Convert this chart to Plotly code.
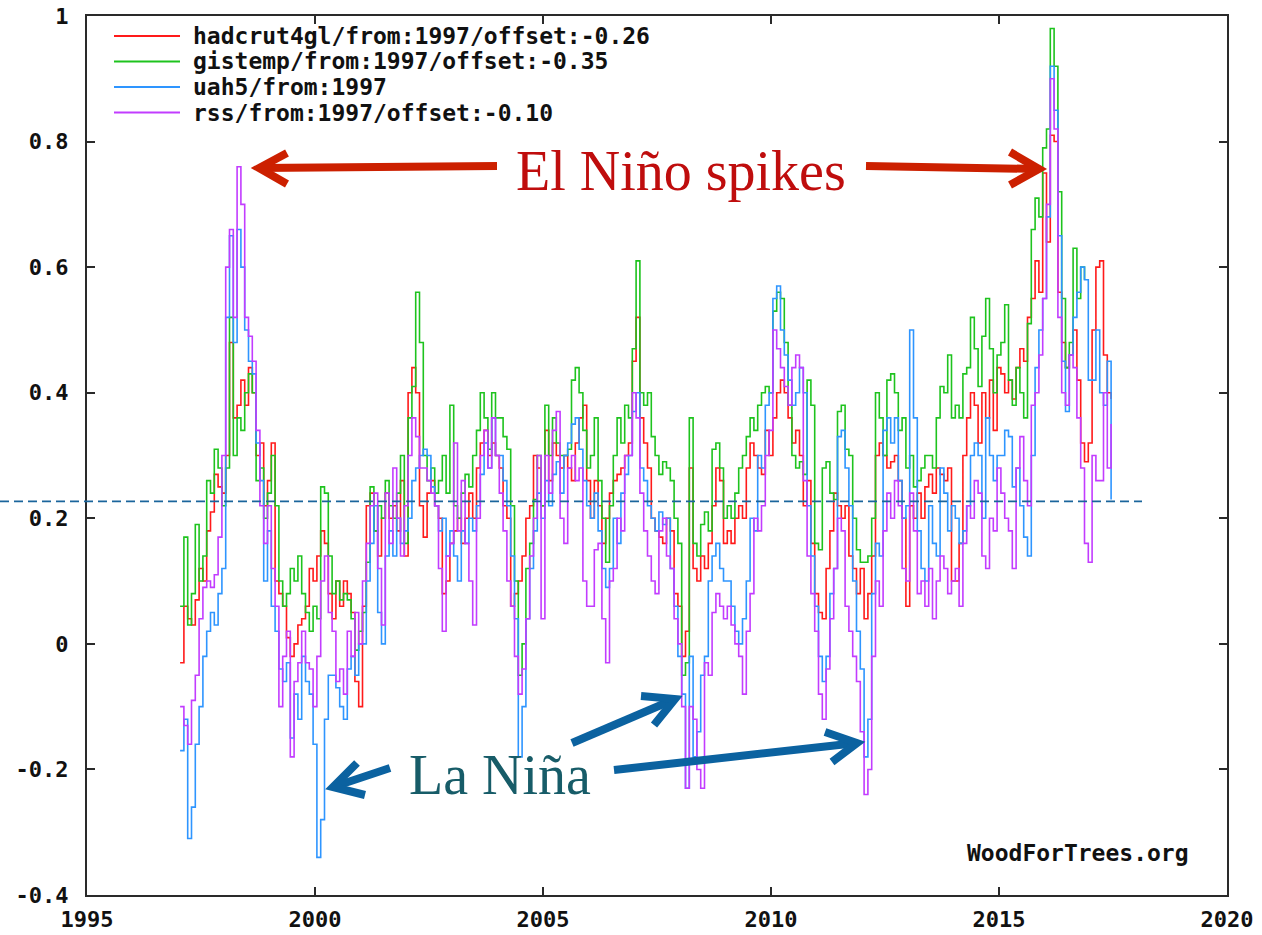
import plotly.graph_objects as go

# ---------------- data (monthly anomalies, from Jan 1997) ----------------
START_YEAR = 1997

hadcrut4gl = [
    -0.03, 0.06, 0.04, 0.03, 0.07, 0.12, 0.10, 0.18, 0.21, 0.27, 0.25, 0.24,   # 1997
    0.30, 0.48, 0.36, 0.38, 0.42, 0.38, 0.44, 0.40, 0.30, 0.32, 0.22, 0.26,    # 1998
    0.32, 0.10, 0.08, 0.06, 0.01, -0.02, 0.00, 0.03, 0.04, 0.06, 0.12, 0.10,   # 1999
    0.14, 0.18, 0.16, 0.08, 0.04, 0.10, 0.06, 0.10, 0.08, 0.05, -0.06, -0.10,  # 2000
    0.06, 0.22, 0.24, 0.18, 0.14, 0.20, 0.24, 0.20, 0.22, 0.18, 0.26, 0.14,    # 2001
    0.40, 0.44, 0.40, 0.22, 0.17, 0.24, 0.26, 0.22, 0.20, 0.08, 0.10, 0.16,    # 2002
    0.18, 0.20, 0.16, 0.20, 0.24, 0.20, 0.28, 0.32, 0.34, 0.30, 0.32, 0.30,    # 2003
    0.28, 0.22, 0.20, 0.06, 0.08, 0.10, 0.14, 0.20, 0.22, 0.30, 0.28, 0.22,    # 2004
    0.34, 0.26, 0.32, 0.30, 0.28, 0.30, 0.28, 0.26, 0.32, 0.36, 0.38, 0.26,    # 2005
    0.20, 0.26, 0.22, 0.16, 0.20, 0.24, 0.26, 0.27, 0.28, 0.30, 0.32, 0.45,    # 2006
    0.52, 0.36, 0.32, 0.28, 0.20, 0.18, 0.17, 0.16, 0.20, 0.18, 0.08, 0.06,    # 2007
    -0.02, 0.02, 0.28, 0.12, 0.10, 0.14, 0.12, 0.16, 0.22, 0.28, 0.26, 0.16,   # 2008
    0.18, 0.16, 0.20, 0.22, 0.20, 0.28, 0.32, 0.30, 0.28, 0.27, 0.34, 0.30,    # 2009
    0.36, 0.40, 0.42, 0.40, 0.36, 0.32, 0.34, 0.30, 0.22, 0.26, 0.16, 0.08,    # 2010
    0.05, 0.04, 0.12, 0.18, 0.24, 0.22, 0.20, 0.22, 0.14, 0.12, 0.08, 0.12,    # 2011
    0.04, 0.08, 0.14, 0.30, 0.32, 0.30, 0.28, 0.29, 0.30, 0.26, 0.20, 0.06,    # 2012
    0.22, 0.20, 0.24, 0.20, 0.25, 0.27, 0.24, 0.28, 0.27, 0.26, 0.28, 0.10,    # 2013
    0.10, 0.16, 0.30, 0.36, 0.40, 0.38, 0.32, 0.40, 0.36, 0.42, 0.34, 0.44,    # 2014
    0.43, 0.40, 0.42, 0.39, 0.44, 0.47, 0.45, 0.52, 0.55, 0.61, 0.56, 0.75,    # 2015
    0.64, 0.81, 0.80, 0.56, 0.48, 0.44, 0.46, 0.50, 0.42, 0.32, 0.29, 0.32,    # 2016
    0.50, 0.60, 0.61, 0.46, 0.40, 0.39,                                        # 2017
]

gistemp = [
    0.06, 0.17, 0.03, 0.08, 0.19, 0.10, 0.14, 0.26, 0.24, 0.31, 0.28, 0.22,    # 1997
    0.28, 0.52, 0.30, 0.36, 0.34, 0.40, 0.43, 0.40, 0.26, 0.28, 0.20, 0.24,    # 1998
    0.30, 0.22, 0.10, 0.06, 0.08, 0.12, 0.10, 0.14, 0.08, 0.05, 0.02, 0.06,    # 1999
    0.04, 0.25, 0.24, 0.14, 0.08, 0.10, 0.07, 0.08, 0.07, 0.04, -0.01, 0.02,   # 2000
    0.05, 0.13, 0.25, 0.18, 0.22, 0.20, 0.26, 0.22, 0.20, 0.24, 0.30, 0.16,    # 2001
    0.36, 0.41, 0.56, 0.48, 0.30, 0.26, 0.28, 0.24, 0.26, 0.30, 0.24, 0.38,    # 2002
    0.22, 0.20, 0.24, 0.27, 0.25, 0.30, 0.34, 0.40, 0.36, 0.31, 0.40, 0.36,    # 2003
    0.36, 0.33, 0.31, 0.22, 0.10, -0.05, 0.00, 0.12, 0.16, 0.23, 0.30, 0.22,   # 2004
    0.38, 0.30, 0.36, 0.32, 0.30, 0.30, 0.31, 0.42, 0.44, 0.40, 0.34, 0.28,    # 2005
    0.30, 0.36, 0.26, 0.20, 0.13, 0.22, 0.30, 0.36, 0.32, 0.38, 0.36, 0.47,    # 2006
    0.61, 0.40, 0.38, 0.40, 0.33, 0.30, 0.27, 0.29, 0.28, 0.26, 0.20, 0.16,    # 2007
    -0.05, -0.03, 0.36, 0.16, 0.14, 0.19, 0.21, 0.18, 0.31, 0.32, 0.28, 0.20,  # 2008
    0.22, 0.20, 0.24, 0.28, 0.30, 0.33, 0.36, 0.34, 0.38, 0.40, 0.41, 0.40,    # 2009
    0.53, 0.56, 0.55, 0.48, 0.38, 0.30, 0.28, 0.29, 0.27, 0.42, 0.38, 0.16,    # 2010
    0.15, 0.28, 0.29, 0.24, 0.23, 0.37, 0.38, 0.31, 0.30, 0.20, 0.15, 0.13,    # 2011
    0.13, 0.14, 0.20, 0.40, 0.36, 0.30, 0.42, 0.43, 0.40, 0.34, 0.36, 0.28,    # 2012
    0.30, 0.25, 0.26, 0.28, 0.30, 0.30, 0.28, 0.36, 0.41, 0.40, 0.46, 0.36,    # 2013
    0.38, 0.36, 0.43, 0.44, 0.52, 0.47, 0.41, 0.49, 0.55, 0.47, 0.40, 0.46,    # 2014
    0.48, 0.54, 0.42, 0.38, 0.44, 0.40, 0.36, 0.51, 0.66, 0.71, 0.68, 0.79,    # 2015
    0.82, 0.98, 0.92, 0.72, 0.55, 0.44, 0.48, 0.63, 0.55, 0.60, 0.58,          # 2016
]

uah5 = [
    -0.17, -0.12, -0.31, -0.26, -0.16, -0.10, -0.02, 0.02, 0.05, 0.03, 0.08, 0.12,   # 1997
    0.52, 0.65, 0.48, 0.66, 0.60, 0.50, 0.45, 0.43, 0.32, 0.26, 0.10, 0.18,          # 1998
    0.06, 0.02, -0.04, -0.06, -0.03, -0.15, -0.08, -0.12, -0.02, -0.06, -0.08, -0.16, # 1999
    -0.34, -0.28, -0.12, -0.05, -0.05, -0.07, -0.10, -0.12, -0.04, -0.02, -0.05, 0.00, # 2000
    0.00, 0.10, 0.16, 0.22, 0.05, 0.00, 0.14, 0.18, 0.14, 0.20, 0.16, 0.18,          # 2001
    0.20, 0.26, 0.28, 0.30, 0.31, 0.30, 0.25, 0.22, 0.18, 0.20, 0.14, 0.18,          # 2002
    0.14, 0.10, 0.18, 0.16, 0.20, 0.18, 0.22, 0.27, 0.32, 0.28, 0.36, 0.30,          # 2003
    0.30, 0.26, 0.22, 0.14, 0.04, -0.18, -0.10, 0.04, 0.12, 0.18, 0.24, 0.20,        # 2004
    0.26, 0.22, 0.27, 0.29, 0.24, 0.30, 0.32, 0.35, 0.36, 0.31, 0.26, 0.22,          # 2005
    0.20, 0.24, 0.18, 0.12, 0.09, 0.12, 0.20, 0.16, 0.24, 0.27, 0.30, 0.37,          # 2006
    0.40, 0.28, 0.26, 0.22, 0.20, 0.18, 0.21, 0.19, 0.20, 0.12, 0.06, -0.02,         # 2007
    -0.08, -0.23, -0.02, -0.18, -0.14, -0.05, -0.02, 0.10, 0.14, 0.16, 0.12, 0.10,   # 2008
    0.10, 0.06, 0.02, 0.00, 0.04, 0.10, 0.20, 0.18, 0.30, 0.28, 0.38, 0.40,          # 2009
    0.55, 0.57, 0.50, 0.46, 0.42, 0.38, 0.40, 0.44, 0.40, 0.22, 0.14, 0.06,          # 2010
    -0.02, -0.06, -0.02, 0.08, 0.12, 0.33, 0.34, 0.28, 0.22, 0.10, 0.02, -0.04,      # 2011
    -0.18, -0.12, 0.08, 0.16, 0.14, 0.34, 0.36, 0.32, 0.36, 0.26, 0.20, 0.22,        # 2012
    0.50, 0.36, 0.18, 0.12, 0.10, 0.22, 0.16, 0.14, 0.28, 0.24, 0.18, 0.22,          # 2013
    0.20, 0.16, 0.18, 0.22, 0.30, 0.32, 0.30, 0.20, 0.36, 0.30, 0.26, 0.30,          # 2014
    0.30, 0.34, 0.33, 0.25, 0.28, 0.22, 0.17, 0.14, 0.30, 0.44, 0.50, 0.55,          # 2015
    0.68, 0.92, 0.85, 0.65, 0.45, 0.37, 0.46, 0.52, 0.56, 0.60, 0.58, 0.42,          # 2016
    0.42, 0.50, 0.40, 0.38, 0.45, 0.23,                                              # 2017
]

rss = [
    -0.10, -0.13, -0.16, -0.09, -0.05, 0.04, 0.09, 0.10, 0.09, 0.11, 0.17, 0.30,     # 1997
    0.60, 0.66, 0.52, 0.76, 0.70, 0.52, 0.49, 0.45, 0.34, 0.22, 0.16, 0.22,          # 1998
    0.12, 0.06, -0.10, -0.02, 0.02, -0.18, -0.06, -0.03, 0.02, -0.03, -0.04, -0.10,  # 1999
    -0.02, 0.10, 0.14, 0.05, 0.02, -0.06, -0.04, -0.08, 0.02, -0.02, 0.05, 0.00,     # 2000
    0.10, 0.16, 0.22, 0.24, 0.12, 0.03, 0.24, 0.16, 0.28, 0.20, 0.14, 0.22,          # 2001
    0.30, 0.36, 0.33, 0.28, 0.28, 0.26, 0.24, 0.22, 0.12, 0.02, 0.14, 0.16,          # 2002
    0.32, 0.18, 0.26, 0.16, 0.10, 0.03, 0.20, 0.30, 0.34, 0.28, 0.36, 0.30,          # 2003
    0.24, 0.18, 0.10, 0.06, -0.02, -0.08, -0.04, 0.04, 0.14, 0.20, 0.30, 0.04,       # 2004
    0.30, 0.24, 0.34, 0.37, 0.20, 0.16, 0.28, 0.30, 0.26, 0.28, 0.10, 0.06,          # 2005
    0.06, 0.15, 0.16, 0.04, -0.03, 0.10, 0.12, 0.20, 0.18, 0.30, 0.30, 0.40,         # 2006
    0.36, 0.24, 0.18, 0.14, 0.10, 0.08, 0.18, 0.20, 0.14, 0.12, 0.04, 0.00,          # 2007
    -0.10, -0.23, -0.10, -0.12, -0.20, -0.23, -0.03, -0.05, 0.05, 0.08, 0.06, 0.04,  # 2008
    0.06, 0.03, 0.00, -0.02, -0.08, 0.02, 0.08, 0.20, 0.18, 0.22, 0.30, 0.34,        # 2009
    0.50, 0.47, 0.44, 0.41, 0.38, 0.44, 0.46, 0.44, 0.26, 0.14, 0.08, 0.02,          # 2010
    -0.08, -0.12, -0.04, 0.04, 0.12, 0.20, 0.18, 0.06, 0.02, -0.02, -0.06, -0.14,    # 2011
    -0.24, -0.20, -0.02, 0.10, 0.06, 0.18, 0.24, 0.20, 0.26, 0.22, 0.12, 0.10,       # 2012
    0.24, 0.18, 0.08, 0.10, 0.06, 0.12, 0.04, 0.10, 0.14, 0.12, 0.08, 0.10,          # 2013
    0.12, 0.06, 0.16, 0.22, 0.20, 0.26, 0.24, 0.14, 0.12, 0.20, 0.18, 0.28,          # 2014
    0.24, 0.20, 0.18, 0.12, 0.28, 0.33, 0.26, 0.22, 0.38, 0.40, 0.46, 0.55,          # 2015
    0.70, 0.90, 0.82, 0.52, 0.40, 0.38, 0.46, 0.44, 0.36, 0.28, 0.16, 0.13,          # 2016
    0.30, 0.26, 0.26, 0.40, 0.28, 0.35,                                              # 2017
]

series_names = [
    "hadcrut4gl/from:1997/offset:-0.26",
    "gistemp/from:1997/offset:-0.35",
    "uah5/from:1997",
    "rss/from:1997/offset:-0.10",
]
series_values = [hadcrut4gl, gistemp, uah5, rss]
series_colors = ["#ff1a1a", "#1ec31e", "#2e95ff", "#c23cff"]

x_ticks = [1995, 2000, 2005, 2010, 2015, 2020]
x_ticktext = ["1995", "2000", "2005", "2010", "2015", "2020"]
y_ticks = [-0.4, -0.2, 0.0, 0.2, 0.4, 0.6, 0.8, 1.0]
y_ticktext = ["-0.4", "-0.2", "0", "0.2", "0.4", "0.6", "0.8", "1"]

X_RANGE = [1995, 2020]
Y_RANGE = [-0.4, 1.0]
REF_LINE = 0.227  # dashed reference level

# ---------------- geometry helpers ----------------
W, H = 1262, 935
ML, MR, MT, MB = 87, 35, 16, 40
PW, PH = W - ML - MR, H - MT - MB


def px(x):
    return (x - ML) / PW


def py(y):
    return (H - MB - y) / PH


MONO = "DejaVu Sans Mono"
SERIF = "Liberation Serif"

fig = go.Figure()
for name, vals, col in zip(series_names, series_values, series_colors):
    xs = [START_YEAR + (i + 0.5) / 12.0 for i in range(len(vals))]
    fig.add_trace(go.Scatter(
        x=xs, y=vals, mode="lines", name=name,
        line=dict(color=col, width=1.6, shape="hv"),
        hoverinfo="skip", showlegend=False,
    ))

shapes = []
annotations = []

# dashed reference line (extends past left edge of plot)
ref_paper = (REF_LINE - Y_RANGE[0]) / (Y_RANGE[1] - Y_RANGE[0])
shapes.append(dict(type="line", xref="paper", yref="paper",
                   x0=px(0), x1=px(1142), y0=ref_paper, y1=ref_paper,
                   line=dict(color="#1a659c", width=1.6, dash="9px,5px"), layer="above"))

# legend (manual, to match the original row spacing)
leg_rows = [36, 61.5, 87, 112.5]
for name, col, yy in zip(series_names, series_colors, leg_rows):
    shapes.append(dict(type="line", xref="paper", yref="paper",
                       x0=px(114), x1=px(180), y0=py(yy), y1=py(yy),
                       line=dict(color=col, width=2)))
    annotations.append(dict(xref="paper", yref="paper", x=px(191), y=py(yy),
                            xanchor="left", yanchor="middle", showarrow=False,
                            text=name,
                            font=dict(family=MONO, size=23, color="#111", weight="bold")))

# watermark
annotations.append(dict(xref="paper", yref="paper", x=px(1191), y=py(853),
                        xanchor="right", yanchor="middle", showarrow=False,
                        text="WoodForTrees.org",
                        font=dict(family=MONO, size=23, color="#111", weight="bold")))


def arrow(shaft, tip, arm1, arm2, color):
    (sx, sy), (tx, ty) = shaft, tip
    shapes.append(dict(type="path", xref="paper", yref="paper",
                       path=f"M {px(sx)},{py(sy)} L {px(tx)},{py(ty)}",
                       line=dict(color=color, width=8), layer="above"))
    shapes.append(dict(type="path", xref="paper", yref="paper",
                       path=(f"M {px(arm1[0])},{py(arm1[1])} L {px(tx)},{py(ty)} "
                             f"L {px(arm2[0])},{py(arm2[1])}"),
                       line=dict(color=color, width=8), layer="above"))


RED_ARROW = "#cc2000"
BLUE_ARROW = "#0b62a0"
arrow((497, 166), (259, 168), (287, 153), (287, 184), RED_ARROW)
arrow((866, 166), (1039, 169), (1010, 152), (1010, 185), RED_ARROW)
arrow((390, 768), (333, 787), (357, 763), (365, 795), BLUE_ARROW)
arrow((572, 743), (675, 699), (641, 696), (654, 725), BLUE_ARROW)
arrow((614, 770), (857, 743), (825, 732), (832, 762), BLUE_ARROW)

annotations.append(dict(xref="paper", yref="paper", x=px(681), y=py(171),
                        xanchor="center", yanchor="middle", showarrow=False,
                        text="El Niño spikes",
                        font=dict(family=SERIF, size=56, color="#bf0d0d")))
annotations.append(dict(xref="paper", yref="paper", x=px(500), y=py(775),
                        xanchor="center", yanchor="middle", showarrow=False,
                        text="La Niña",
                        font=dict(family=SERIF, size=56, color="#175c68")))

axis_common = dict(
    showgrid=False, zeroline=False, showline=True, linecolor="#2a2a2a", linewidth=2,
    mirror="allticks", ticks="inside", ticklen=8, tickwidth=1.5, tickcolor="#2a2a2a",
    tickfont=dict(family=MONO, size=22, color="#111", weight="bold"),
    automargin=False,
)

fig.update_layout(
    width=W, height=H,
    margin=dict(l=ML, r=MR, t=MT, b=MB, pad=0, autoexpand=False),
    paper_bgcolor="white", plot_bgcolor="white",
    xaxis=dict(range=X_RANGE, tickvals=x_ticks, ticktext=x_ticktext,
               ticklabelstandoff=4, **axis_common),
    yaxis=dict(range=Y_RANGE, tickvals=y_ticks, ticktext=y_ticktext,
               ticklabelstandoff=12, **axis_common),
    shapes=shapes, annotations=annotations,
    showlegend=False,
)

fig.write_html("out.html")
